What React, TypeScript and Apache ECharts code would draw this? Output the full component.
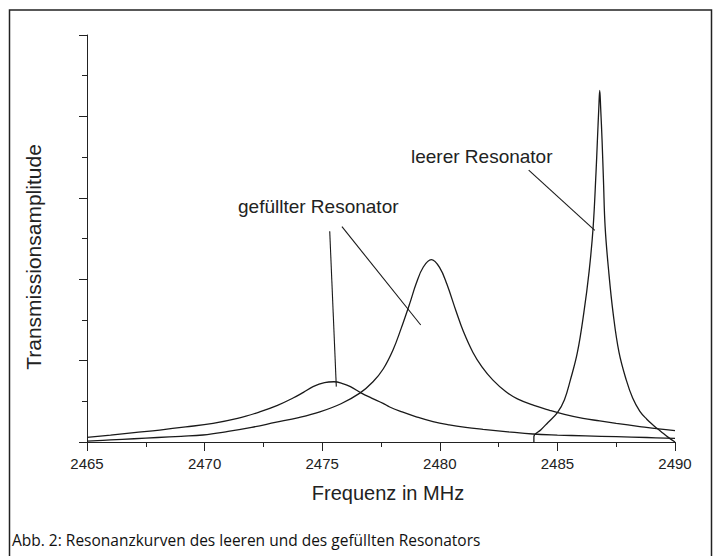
import React, { useEffect, useRef } from "react";
import * as echarts from "echarts";

// X axis tick values (MHz)
const xTicks = [2465, 2470, 2475, 2480, 2485, 2490];

// leerer Resonator
const emptyFreq = [2484.0, 2484.0, 2484.3, 2484.6, 2485.0, 2485.3, 2485.55, 2485.85, 2486.12, 2486.35, 2486.52, 2486.64, 2486.7, 2486.76, 2486.8, 2486.84, 2486.9, 2486.96, 2487.03, 2487.18, 2487.37, 2487.62, 2487.93, 2488.2, 2488.5, 2488.8, 2489.1, 2489.4, 2489.7, 2490.0];
const emptyAmp = [0, 0.065, 0.15, 0.24, 0.36, 0.52, 0.76, 1.1, 1.58, 2.1, 2.64, 3.3, 3.7, 4.1, 4.32, 4.1, 3.7, 3.2, 2.64, 2.1, 1.58, 1.1, 0.76, 0.54, 0.38, 0.28, 0.2, 0.13, 0.06, 0];

// gefüllter Resonator (Kurve 1)
const filledFreq = [2465, 2466, 2467, 2468, 2469, 2469.93, 2471, 2472, 2473, 2474, 2474.9, 2475.8, 2476.6, 2477.16, 2477.6, 2478.01, 2478.35, 2478.72, 2479.0, 2479.3, 2479.64, 2480.0, 2480.3, 2480.7, 2481.0, 2481.41, 2481.8, 2482.26, 2482.8, 2483.3, 2484.0, 2484.67, 2485.3, 2486.09, 2486.8, 2487.5, 2488.5, 2489.3, 2490];
const filledAmp = [0.01, 0.025, 0.04, 0.055, 0.07, 0.086, 0.13, 0.18, 0.24, 0.3, 0.37, 0.47, 0.6, 0.74, 0.9, 1.13, 1.39, 1.7, 1.95, 2.15, 2.24, 2.14, 1.94, 1.6, 1.36, 1.1, 0.92, 0.76, 0.62, 0.53, 0.45, 0.39, 0.34, 0.29, 0.26, 0.23, 0.19, 0.16, 0.14];

// gefüllter Resonator (Kurve 2)
const filled2Freq = [2465, 2466, 2467, 2468.09, 2469.2, 2470.36, 2471.4, 2472.34, 2473.1, 2473.76, 2474.2, 2474.61, 2475.1, 2475.5, 2475.9, 2476.2, 2476.67, 2477.1, 2477.59, 2477.87, 2478.4, 2479.0, 2479.71, 2480.4, 2481.1, 2481.84, 2482.9, 2483.96, 2485.0, 2486.2, 2487.5, 2488.8, 2490];
const filled2Amp = [0.058, 0.085, 0.115, 0.147, 0.185, 0.23, 0.29, 0.37, 0.45, 0.54, 0.61, 0.68, 0.73, 0.74, 0.715, 0.68, 0.6, 0.54, 0.475, 0.43, 0.37, 0.31, 0.25, 0.21, 0.18, 0.156, 0.125, 0.098, 0.085, 0.075, 0.065, 0.055, 0.045];

// annotation leader lines (data coordinates)
const leaderLines = [
  [[2483.78, 3.34], [2486.59, 2.6]],
  [[2475.32, 2.59], [2475.6, 0.68]],
  [[2475.84, 2.645], [2479.19, 1.437]],
];

const labelEmpty = "leerer Resonator";
const labelFilled = "gefüllter Resonator";
const xTitle = "Frequenz in MHz";
const yTitle = "Transmissionsamplitude";
const caption = "Abb. 2: Resonanzkurven des leeren und des gefüllten Resonators";

const zip = (a: number[], b: number[]) => a.map((v, i) => [v, b[i]]);

export default function App() {
  const ref = useRef<HTMLDivElement>(null);
  useEffect(() => {
    if (!ref.current) return;
    const chart = echarts.init(ref.current, null, { renderer: "svg" });
    const lineColor = "#1a1a1a";
    const font = "Liberation Sans, Arial, sans-serif";
    const curve = (name: string, data: number[][], extra: any = {}) => ({
      name,
      type: "line",
      data,
      showSymbol: false,
      symbol: "none",
      smooth: 0.4,
      lineStyle: { color: lineColor, width: 1.3 },
      silent: true,
      ...extra,
    });
    chart.setOption({
      animation: false,
      backgroundColor: "#ffffff",
      grid: { left: 87, right: 41, top: 35, bottom: 114, containLabel: false },
      xAxis: {
        type: "value",
        min: xTicks[0],
        max: xTicks[xTicks.length - 1],
        interval: 5,
        axisLine: { show: true, onZero: false, lineStyle: { color: "#222", width: 1 } },
        axisTick: { show: true, inside: false, length: 9, lineStyle: { color: "#222" } },
        minorTick: { show: true, splitNumber: 2, length: 5, lineStyle: { color: "#222" } },
        splitLine: { show: false },
        axisLabel: { fontSize: 15, color: "#222", fontFamily: font, margin: 14, formatter: (v: number) => String(v) },
      },
      yAxis: {
        type: "value",
        min: 0,
        max: 5,
        interval: 1,
        axisLine: { show: true, onZero: false, lineStyle: { color: "#222", width: 1 } },
        axisTick: { show: true, inside: false, length: 8, lineStyle: { color: "#222" } },
        minorTick: { show: true, splitNumber: 2, length: 5, lineStyle: { color: "#222" } },
        splitLine: { show: false },
        axisLabel: { show: false },
      },
      series: [
        curve("leerer Resonator", zip(emptyFreq, emptyAmp)),
        curve("gefüllter Resonator 1", zip(filledFreq, filledAmp)),
        curve("gefüllter Resonator 2", zip(filled2Freq, filled2Amp), {
          markLine: {
            silent: true,
            symbol: ["none", "none"],
            label: { show: false },
            lineStyle: { color: lineColor, width: 1.1, type: "solid" },
            data: leaderLines.map(([a, b]) => [{ coord: a }, { coord: b }]),
          },
        }),
      ],
      graphic: [
        {
          type: "rect",
          shape: { x: 9.5, y: 10, width: 702, height: 580 },
          style: { fill: "none", stroke: "#222", lineWidth: 1.5 },
          silent: true,
        },
        {
          type: "text",
          x: 411,
          y: 156,
          style: { text: labelEmpty, fontSize: 19, fontFamily: font, fill: "#222", textVerticalAlign: "middle" },
        },
        {
          type: "text",
          x: 238,
          y: 206,
          style: { text: labelFilled, fontSize: 19, fontFamily: font, fill: "#222", textVerticalAlign: "middle" },
        },
        {
          type: "text",
          x: 388,
          y: 493,
          style: { text: xTitle, fontSize: 20, fontFamily: font, fill: "#222", textAlign: "center", textVerticalAlign: "middle" },
        },
        {
          type: "text",
          x: 33,
          y: 257,
          rotation: Math.PI / 2,
          style: { text: yTitle, fontSize: 21, fontFamily: font, fill: "#222", textAlign: "center", textVerticalAlign: "middle" },
        },
        {
          type: "text",
          x: 12,
          y: 540,
          style: { text: caption, fontSize: 15.5, fontFamily: "Open Sans, Noto Sans, sans-serif", fill: "#111", textVerticalAlign: "middle" },
        },
      ],
    });
    return () => chart.dispose();
  }, []);
  return <div ref={ref} style={{ position: "absolute", left: 0, top: 0, width: 716, height: 556 }} />;
}
